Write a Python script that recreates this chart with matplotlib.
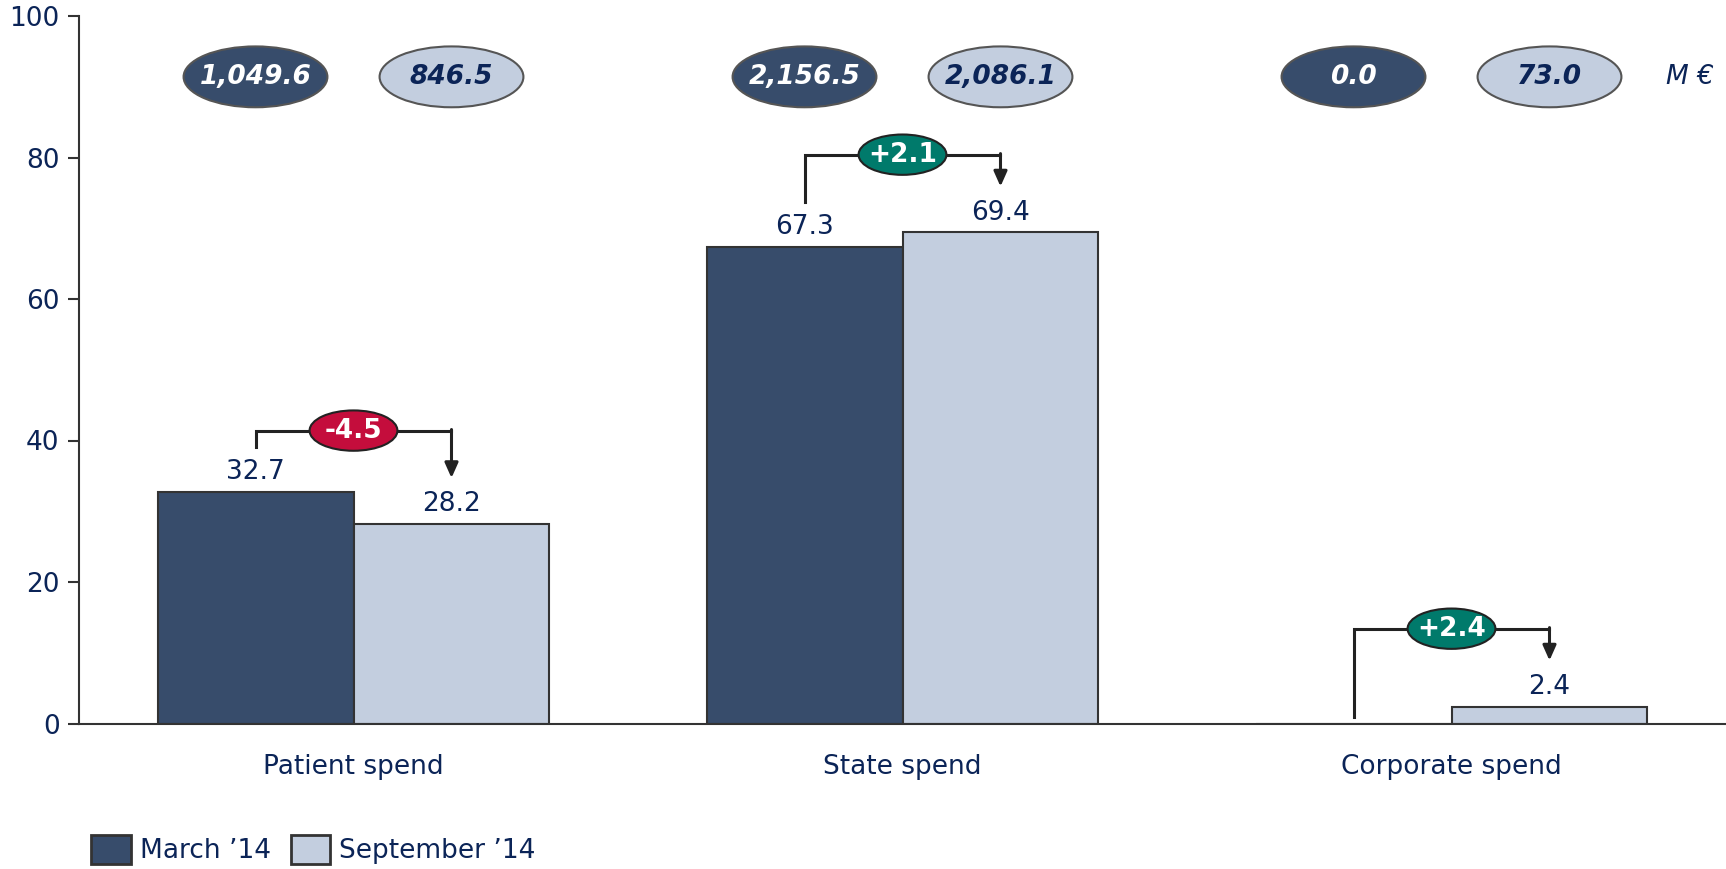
import numpy as np
import matplotlib.pyplot as plt
from matplotlib.patches import Ellipse, Patch

categories = ["Patient spend", "State spend", "Corporate spend"]
march = [32.7, 67.3, 0.0]
september = [28.2, 69.4, 2.4]
spend_march = ["1,049.6", "2,156.5", "0.0"]
spend_sept = ["846.5", "2,086.1", "73.0"]
deltas = ["-4.5", "+2.1", "+2.4"]
series = ["March \u201914", "September \u201914"]

dark = "#374c6b"
light = "#c3cedf"
navy = "#0b2457"
edge = "#333333"
red = "#c40d3c"
teal = "#007a6b"

# bracket horizontal level above the taller bar
bracket_gap = [8.7, 11.0, 11.0]
fs = 19

plt.rcParams["font.family"] = ["DejaVu Sans"]

fig = plt.figure(figsize=(17.26, 8.69), dpi=100)
ax = fig.add_axes([79 / 1726, 1 - 723.5 / 869, 1 - 79 / 1726, (723.5 - 16) / 869])

x = np.arange(len(categories))
w = 0.357
ax.bar(x - w / 2, march, w, color=dark, edgecolor=edge, linewidth=1.5, zorder=2)
ax.bar(x + w / 2, september, w, color=light, edgecolor=edge, linewidth=1.5, zorder=2)

ax.set_xlim(-0.5, 2.5)
ax.set_ylim(0, 100)

# value labels
for i in range(len(x)):
    if march[i] > 0:
        ax.annotate(f"{march[i]:.1f}", (x[i] - w / 2, march[i]), xytext=(0, 5),
                    textcoords="offset points", ha="center", va="bottom",
                    fontsize=fs, color=navy)
    ax.annotate(f"{september[i]:.1f}", (x[i] + w / 2, september[i]), xytext=(0, 5),
                textcoords="offset points", ha="center", va="bottom",
                fontsize=fs, color=navy)

# top ellipses with spend totals
ey = 91.4
for i in range(len(x)):
    ax.add_patch(Ellipse((x[i] - w / 2, ey), 0.262, 8.6, facecolor=dark,
                         edgecolor="#555555", linewidth=1.5, zorder=3))
    ax.text(x[i] - w / 2, ey, spend_march[i], ha="center", va="center",
            fontsize=fs, fontweight="bold", fontstyle="italic", color="white", zorder=4)
    ax.add_patch(Ellipse((x[i] + w / 2, ey), 0.262, 8.6, facecolor=light,
                         edgecolor="#555555", linewidth=1.5, zorder=3))
    ax.text(x[i] + w / 2, ey, spend_sept[i], ha="center", va="center",
            fontsize=fs, fontweight="bold", fontstyle="italic", color=navy, zorder=4)
ax.text(2.435, ey, "M \u20ac", ha="center", va="center", fontsize=fs,
        fontstyle="italic", color=navy)

# change brackets
for i in range(len(x)):
    x0 = x[i] - w / 2
    x1 = x[i] + w / 2
    top = max(march[i], september[i]) + bracket_gap[i]
    y0 = march[i] + 6.4 if march[i] > 0 else 0.9
    y1 = september[i] + 6.5
    ax.plot([x0, x0, x1], [y0, top, top], color="#222222", lw=2.2, zorder=3,
            solid_joinstyle="miter")
    ax.annotate("", xy=(x1, y1), xytext=(x1, top + 0.15),
                arrowprops=dict(arrowstyle="-|>,head_width=0.4,head_length=0.9",
                                color="#222222", lw=2.2, shrinkA=0, shrinkB=0),
                zorder=3)
    col = red if deltas[i].startswith("-") else teal
    ax.add_patch(Ellipse((x[i], top), 0.16, 5.7, facecolor=col,
                         edgecolor="#222222", linewidth=1.5, zorder=4))
    ax.text(x[i], top, deltas[i], ha="center", va="center", fontsize=fs,
            fontweight="bold", color="white", zorder=5)

ax.set_xticks(x)
ax.set_xticklabels(categories, fontsize=fs, color=navy)
ax.tick_params(axis="x", length=0, pad=22)
ax.set_yticks(np.arange(0, 101, 20))
ax.tick_params(axis="y", labelsize=fs, labelcolor=navy, length=8, width=1.5,
               color=edge, pad=6)
for s in ["top", "right"]:
    ax.spines[s].set_visible(False)
for s in ["left", "bottom"]:
    ax.spines[s].set_color(edge)
    ax.spines[s].set_linewidth(1.5)

handles = [Patch(facecolor=dark, edgecolor=edge, linewidth=2),
           Patch(facecolor=light, edgecolor=edge, linewidth=2)]
leg = fig.legend(handles, series, loc="lower left", bbox_to_anchor=(0.039, -0.022),
                 ncol=2, frameon=False, fontsize=fs, handlelength=1.5,
                 handleheight=1.3, handletextpad=0.35, columnspacing=0.75)
for t in leg.get_texts():
    t.set_color(navy)

fig.savefig("out.png", dpi=100)
